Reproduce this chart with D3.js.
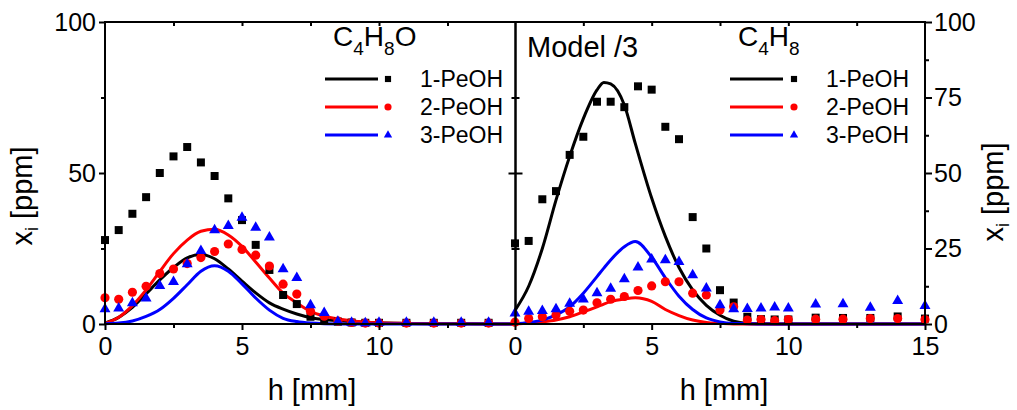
<!DOCTYPE html>
<html>
<head>
<meta charset="utf-8">
<script src="https://cdn.jsdelivr.net/npm/d3@7"></script>
<style>
  body { margin: 0; background: #fff; }
  text { font-family: "Liberation Sans", Arial, sans-serif; fill: #000; }
</style>
</head>
<body>
<svg width="1017" height="410"></svg>
<script>
// measured points, h in mm
const expHLeft = [0, 0.5, 1, 1.5, 2, 2.5, 3, 3.5, 4, 4.5, 5, 5.5, 6, 6.5, 7, 7.5, 8, 8.5, 9, 9.5, 10, 11, 12, 13, 14];
const expLeft1 = [27.8, 31.1, 36.5, 42, 50, 55.5, 58.6, 53.5, 49, 41.6, 34.4, 26.2, 17.9, 9.6, 6.6, 2.4, 1.5, 0.8, 0.5, 0.4, 0.4, 0.4, 0.4, 0.4, 0.4];
const expLeft2 = [8.7, 8.2, 10.5, 12.5, 16.7, 18.2, 20, 22, 24, 26.5, 24.7, 22.8, 19.2, 13.2, 9.9, 4.2, 2.6, 1.0, 0.5, 0.3, 0.3, 0.3, 0.3, 0.3, 0.3];
const expLeft3 = [4.9, 5.2, 6.9, 8.5, 12.6, 14, 19.8, 24.2, 31.1, 32.5, 35.2, 31.9, 28.7, 18.2, 15.3, 6.3, 3.7, 0.8, 0.5, 0.3, 0.5, 0.5, 0.5, 0.5, 0.5];

const expHRight = [0, 0.5, 1, 1.5, 2, 2.5, 3, 3.5, 4, 4.5, 5, 5.5, 6, 6.5, 7, 7.5, 8, 8.5, 9, 9.5, 10, 11, 12, 13, 14, 15];
const expRight1 = [26.7, 27.5, 41.3, 44, 56, 62, 73.6, 73.6, 71.8, 78.7, 77.6, 65.3, 61.2, 35.4, 25, 11.2, 7.1, 2.4, 1.6, 1.5, 1.5, 2.1, 2, 2, 2.5, 1.8];
const expRight2 = [0.6, 1.8, 2.4, 3, 4.2, 4.6, 7, 8.2, 9.1, 11.1, 12.6, 14, 14, 10.2, 9.6, 4.6, 5.7, 1.3, 1.5, 1.1, 1.5, 1.6, 1.6, 1.8, 1.8, 1.5];
const expRight3 = [3.5, 4.1, 4.4, 4.9, 6.8, 8.2, 10.2, 11.7, 14.9, 18.8, 21.4, 21.2, 20.6, 16.2, 11.8, 6.3, 4.9, 5, 5.2, 5.5, 5.2, 6.5, 6.6, 5.4, 7.7, 6];

// model curves
const modHLeft = [0, 0.5, 1, 1.5, 2, 2.5, 3, 3.5, 4, 4.5, 5, 5.5, 6, 6.5, 7, 7.5, 8, 9, 10, 11, 12, 13, 15];
const modLeft1 = [0.3, 2.2, 5.5, 10, 14.6, 18.7, 21.9, 23, 21.6, 18.2, 14.2, 10.3, 7, 4.9, 3.3, 2.1, 1.5, 0.8, 0.4, 0.2, 0.1, 0.05, 0];
const modLeft2 = [0.2, 2.2, 6.1, 11.3, 17.4, 23.3, 27.8, 30.7, 31.4, 29.5, 25.7, 20.5, 15.2, 10.2, 7, 4.2, 2.6, 1.1, 0.4, 0.2, 0.1, 0.05, 0];
const modLeft3 = [0.1, 0.3, 1, 2.5, 4.8, 8.5, 13, 17.5, 19.3, 17.5, 13.3, 8.6, 4.6, 1.9, 0.8, 0.3, 0.1, 0, 0, 0, 0, 0, 0];

const modHRight = [0, 0.5, 1, 1.5, 2, 2.5, 3, 3.25, 3.5, 4, 4.4, 5, 5.5, 6, 6.5, 7, 7.5, 8, 8.5, 9, 10, 15];
const modRight1 = [4.5, 12.5, 25, 41, 55.5, 68, 77.5, 80, 79.5, 72.5, 59.8, 41.7, 29, 18.7, 11.3, 6.2, 2.9, 0.9, 0.2, 0.1, 0, 0];
const modRight2 = [0, 0.3, 0.7, 1.3, 2.4, 4, 5.7, 6.6, 7.4, 8.3, 8.7, 7.5, 4.8, 2.8, 1.3, 0.5, 0.2, 0, 0, 0, 0, 0];
const modRight3 = [0, 0.5, 1.3, 3, 5.7, 10.2, 15.7, 18.5, 21.2, 25.6, 27.3, 22.1, 15.3, 9.2, 4.8, 2, 0.7, 0.2, 0.1, 0, 0, 0];

const seriesNames = ["1-PeOH", "2-PeOH", "3-PeOH"];
const seriesColors = ["#000000", "#ff0000", "#0000ff"];
const seriesSymbols = [d3.symbolSquare, d3.symbolCircle, d3.symbolTriangle];

const svg = d3.select("svg");
const y = d3.scaleLinear().domain([0, 100]).range([324, 22]);
const xL = d3.scaleLinear().domain([0, 15]).range([105, 516]);
const xR = d3.scaleLinear().domain([0, 15]).range([515, 925]);

function styleAxis(sel, fontSize) {
  sel.select(".domain").remove();
  sel.selectAll(".tick line").attr("stroke", "#000").attr("stroke-width", 2);
  sel.selectAll(".tick text")
    .style("font-family", "'Liberation Sans', Arial, sans-serif")
    .style("font-size", fontSize + "px")
    .attr("fill", "#000");
}

function addAxis(axis, tx, ty) {
  svg.append("g").attr("transform", `translate(${tx},${ty})`).call(axis).call(styleAxis, 25);
}

function drawPanel(x, expH, exps, modH, mods) {
  // model lines
  mods.forEach((vals, i) => {
    const line = d3.line()
      .x((d, j) => x(modH[j]))
      .y(d => y(d))
      .curve(d3.curveMonotoneX);
    svg.append("path")
      .datum(vals)
      .attr("d", line)
      .attr("fill", "none")
      .attr("stroke", seriesColors[i])
      .attr("stroke-width", 3);
  });
  // measured symbols
  const sizes = [64, 66, 52];
  exps.forEach((vals, i) => {
    svg.append("g").selectAll("path")
      .data(vals)
      .join("path")
      .attr("transform", (d, j) => `translate(${x(expH[j])},${y(d)})`)
      .attr("d", d3.symbol(seriesSymbols[i], sizes[i]))
      .attr("fill", seriesColors[i]);
  });
}

drawPanel(xL, expHLeft, [expLeft1, expLeft2, expLeft3], modHLeft, [modLeft1, modLeft2, modLeft3]);
drawPanel(xR, expHRight, [expRight1, expRight2, expRight3], modHRight, [modRight1, modRight2, modRight3]);

// frames
svg.append("rect").attr("x", 105).attr("y", 22).attr("width", 410.5).attr("height", 302)
  .attr("fill", "none").attr("stroke", "#000").attr("stroke-width", 2);
svg.append("rect").attr("x", 515.5).attr("y", 22).attr("width", 409.5).attr("height", 302)
  .attr("fill", "none").attr("stroke", "#000").attr("stroke-width", 2);

// left panel axes
addAxis(d3.axisBottom(xL).tickValues([0, 5, 10]).tickSize(6).tickPadding(7), 0, 324);
addAxis(d3.axisBottom(xL).tickValues([2.5, 7.5, 12.5]).tickSize(4).tickFormat(""), 0, 324);
addAxis(d3.axisBottom(xL).tickValues([2.5, 5, 7.5, 10, 12.5]).tickSize(4).tickFormat(""), 0, 22);
addAxis(d3.axisLeft(y).tickValues([0, 50, 100]).tickSize(6).tickPadding(3), 105, 0);
addAxis(d3.axisLeft(y).tickValues([25, 75]).tickSize(4).tickFormat(""), 105, 0);

// shared middle line
addAxis(d3.axisLeft(y).tickValues([50]).tickSize(7).tickFormat(""), 515.5, 0);
addAxis(d3.axisRight(y).tickValues([50]).tickSize(7).tickFormat(""), 515.5, 0);
addAxis(d3.axisLeft(y).tickValues([25, 75]).tickSize(4).tickFormat(""), 515.5, 0);
addAxis(d3.axisRight(y).tickValues([25, 75]).tickSize(4).tickFormat(""), 515.5, 0);

// right panel axes
addAxis(d3.axisBottom(xR).tickValues([0, 5, 10, 15]).tickSize(6).tickPadding(7), 0, 324);
addAxis(d3.axisBottom(xR).tickValues([2.5, 7.5, 12.5]).tickSize(4).tickFormat(""), 0, 324);
addAxis(d3.axisBottom(xR).tickValues([2.5, 5, 7.5, 10, 12.5]).tickSize(4).tickFormat(""), 0, 22);
addAxis(d3.axisRight(y).tickValues([0, 25, 50, 75, 100]).tickSize(7).tickPadding(2), 925, 0);
addAxis(d3.axisRight(y).tickValues([12.5, 37.5, 62.5, 87.5]).tickSize(4).tickFormat(""), 925, 0);

// axis titles
[312, 724].forEach(cx => {
  svg.append("text").attr("x", cx).attr("y", 400).attr("text-anchor", "middle")
    .style("font-size", "29px").text("h [mm]");
});
[[32, 196], [1003, 192]].forEach(([tx, ty]) => {
  const t = svg.append("text")
    .attr("transform", `translate(${tx},${ty}) rotate(-90)`)
    .attr("text-anchor", "middle")
    .style("font-size", "29px");
  t.append("tspan").text("x");
  t.append("tspan").attr("dy", 6).style("font-size", "18px").text("i");
  t.append("tspan").attr("dy", -6).text(" [ppm]");
});

// legend titles
function formula(xp, yp, parts) {
  const t = svg.append("text").attr("x", xp).attr("y", yp).style("font-size", "28px");
  parts.forEach(([s, sub]) => {
    t.append("tspan").attr("dy", sub ? 9 : (t.node().childNodes.length ? -9 : 0))
      .style("font-size", sub ? "19px" : "28px").text(s);
  });
}
formula(333, 55, [["C", 0], ["4", 1], ["H", 0], ["8", 1], ["O", 0]]);
formula(738, 55, [["C", 0], ["4", 1], ["H", 0], ["8", 1]]);
svg.append("text").attr("x", 527).attr("y", 57).style("font-size", "29px").text("Model /3");

// legends
const legendRowsY = [79, 107, 135];
const legendSizes = [38, 40, 30];
[[325, 388, 420], [730, 794, 826]].forEach(([lx, mx, tx]) => {
  seriesNames.forEach((name, i) => {
    const ly = legendRowsY[i];
    svg.append("line").attr("x1", lx).attr("x2", lx + 53).attr("y1", ly).attr("y2", ly)
      .attr("stroke", seriesColors[i]).attr("stroke-width", 3);
    svg.append("path").attr("transform", `translate(${mx},${ly})`)
      .attr("d", d3.symbol(seriesSymbols[i], legendSizes[i])).attr("fill", seriesColors[i]);
    svg.append("text").attr("x", tx).attr("y", ly + 8).style("font-size", "23px").text(name);
  });
});
</script>
</body>
</html>
